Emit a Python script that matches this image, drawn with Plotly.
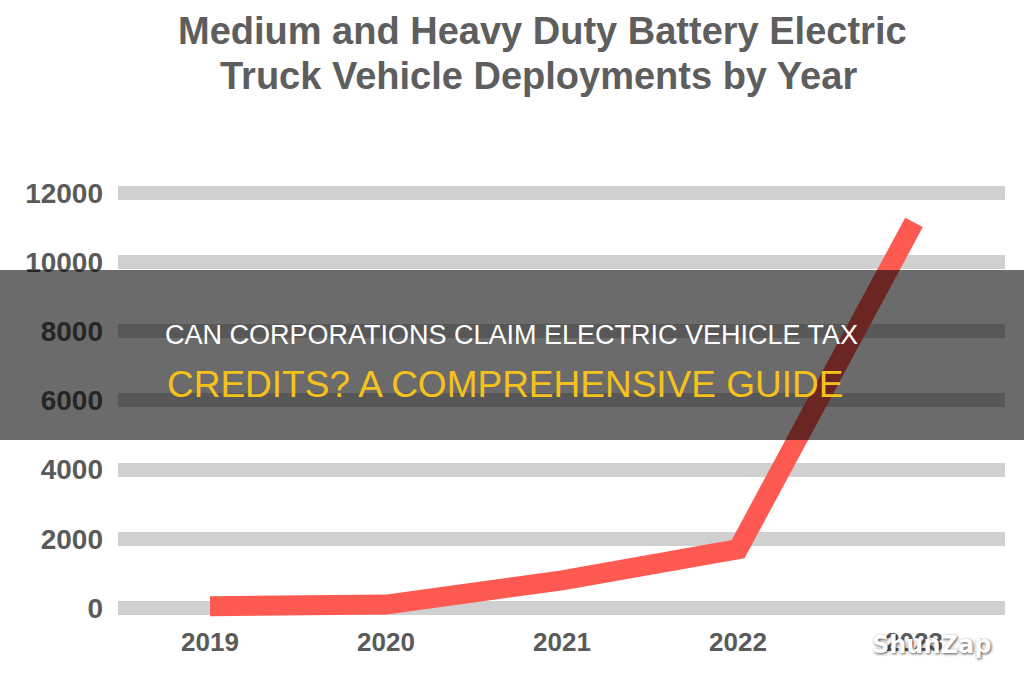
import plotly.graph_objects as go

# ---- data ----
years = [2019, 2020, 2021, 2022, 2023]
deployments = [50, 100, 800, 1700, 11150]
y_ticks = [0, 2000, 4000, 6000, 8000, 10000, 12000]
y_tick_text = ["0", "2000", "4000", "6000", "8000", "10000", "12000"]
x_tick_text = ["2019", "2020", "2021", "2022", "2023"]

title_line1 = "Medium and Heavy Duty Battery Electric"
title_line2 = "Truck Vehicle Deployments by Year"
headline1 = "CAN CORPORATIONS CLAIM ELECTRIC VEHICLE TAX"
headline2 = "CREDITS? A COMPREHENSIVE GUIDE"
brand = "ShunZap"

W, H = 1024, 680
ML, MR, MT, MB = 118, 19, 150, 60
PW, PH = W - ML - MR, H - MT - MB


def px_x(x):
    return (x - ML) / PW


def px_y(y):
    return (H - MB - y) / PH


fig = go.Figure()
fig.add_trace(go.Scatter(
    x=years, y=deployments, mode="lines",
    line=dict(color="#ff5a52", width=20),
    hoverinfo="skip", showlegend=False,
))

tick_gray = "#5a5a5a"
fig.update_layout(
    width=W, height=H,
    margin=dict(l=ML, r=MR, t=MT, b=MB),
    paper_bgcolor="white", plot_bgcolor="white",
    xaxis=dict(
        range=[2018.477, 2023.517], tickvals=years, ticktext=x_tick_text,
        showgrid=False, zeroline=False, showline=False, ticks="",
        tickfont=dict(family="Liberation Sans", size=26, color=tick_gray, weight="bold"),
        ticklabelstandoff=4,
    ),
    yaxis=dict(
        range=[-347, 13243], tickvals=y_ticks, ticktext=y_tick_text,
        showgrid=True, gridcolor="#d0d0d0", gridwidth=14,
        zeroline=False, showline=False, ticks="",
        tickfont=dict(family="Liberation Sans", size=28, color=tick_gray, weight="bold"),
        ticklabelstandoff=14,
    ),
    shapes=[dict(
        type="rect", xref="paper", yref="paper",
        x0=px_x(0), x1=px_x(W), y0=px_y(440), y1=px_y(270),
        fillcolor="rgba(0,0,0,0.58)", line=dict(width=0), layer="above",
    )],
    annotations=[
        dict(text=title_line1, xref="paper", yref="paper", x=px_x(542), y=px_y(31),
             xanchor="center", yanchor="middle", showarrow=False,
             font=dict(family="Liberation Sans", size=38, color="#5e5e5e", weight="bold")),
        dict(text=title_line2, xref="paper", yref="paper", x=px_x(538), y=px_y(76),
             xanchor="center", yanchor="middle", showarrow=False,
             font=dict(family="Liberation Sans", size=38, color="#5e5e5e", weight="bold")),
        dict(text=headline1, xref="paper", yref="paper", x=px_x(511), y=px_y(335),
             xanchor="center", yanchor="middle", showarrow=False,
             font=dict(family="Liberation Sans", size=27, color="white")),
        dict(text=headline2, xref="paper", yref="paper", x=px_x(505), y=px_y(384),
             xanchor="center", yanchor="middle", showarrow=False,
             font=dict(family="Liberation Sans", size=37, color="#f5c21b")),
        dict(text=brand, xref="paper", yref="paper", x=px_x(931), y=px_y(645),
             xanchor="center", yanchor="middle", showarrow=False,
             font=dict(family="DejaVu Sans", size=24, color="white", weight="bold",
                       shadow="1px 1px 3px rgba(0,0,0,0.7)")),
    ],
)

fig.write_html("out.html")
